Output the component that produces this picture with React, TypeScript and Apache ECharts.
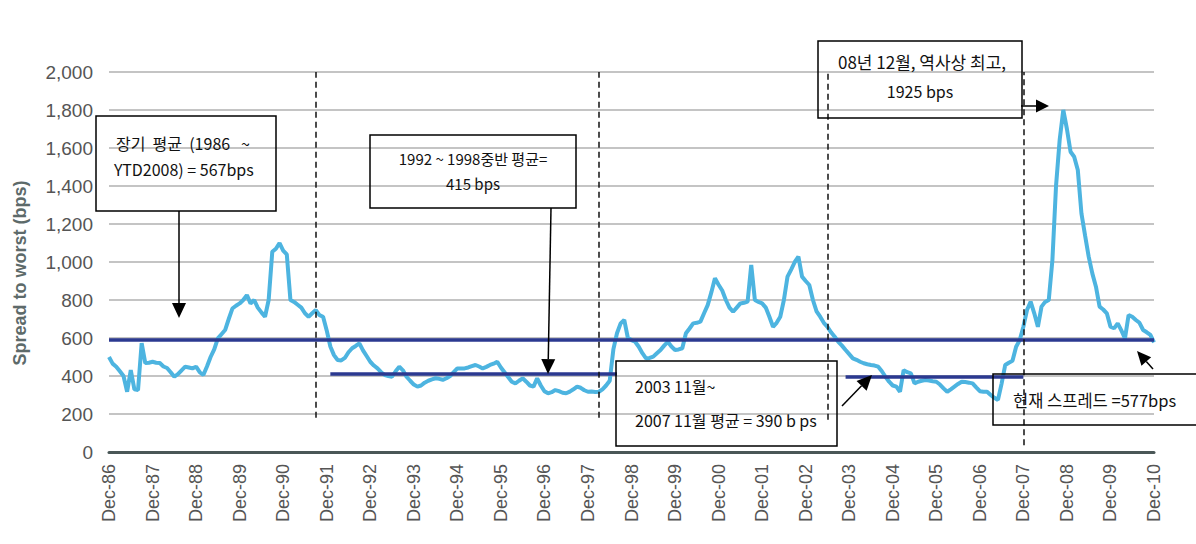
import React, { useEffect, useRef } from "react";
import * as echarts from "echarts";

// ---- categories (monthly, Dec-86 .. Dec-10) ----
const monthNames = ["Jan", "Feb", "Mar", "Apr", "May", "Jun", "Jul", "Aug", "Sep", "Oct", "Nov", "Dec"];
const firstYear = 1987;
const lastYear = 2010;
const categories: string[] = ["Dec-86"];
for (let y = firstYear; y <= lastYear; y++) {
  for (let i = 0; i < 12; i++) categories.push(`${monthNames[i]}-${String(y % 100).padStart(2, "0")}`);
}

// ---- spread to worst (bps), monthly values ----
const spreadDec1986 = [500];
const spread1987 = [465, 449, 425, 400, 317, 431, 330, 326, 573, 468, 470, 475];
const spread1988 = [470, 468, 450, 442, 420, 396, 410, 430, 449, 445, 440, 449];
const spread1989 = [420, 405, 450, 500, 540, 598, 620, 642, 700, 755, 770, 782];
const spread1990 = [800, 826, 782, 800, 760, 735, 712, 800, 1054, 1070, 1100, 1060];
const spread1991 = [1040, 800, 790, 775, 760, 730, 712, 730, 747, 720, 712, 640];
const spread1992 = [555, 510, 484, 482, 495, 525, 546, 558, 572, 535, 505, 475];
const spread1993 = [455, 440, 420, 405, 400, 396, 425, 449, 430, 396, 375, 355];
const spread1994 = [344, 350, 365, 375, 382, 388, 385, 380, 388, 400, 420, 440];
const spread1995 = [440, 440, 445, 452, 458, 450, 440, 448, 458, 465, 475, 445];
const spread1996 = [420, 395, 370, 361, 375, 388, 370, 350, 344, 388, 350, 320];
const spread1997 = [309, 315, 326, 320, 312, 309, 318, 330, 344, 338, 325, 317];
const spread1998 = [318, 316, 317, 330, 350, 375, 540, 625, 677, 695, 600, 589];
const spread1999 = [580, 554, 520, 493, 495, 502, 520, 537, 560, 580, 555, 537];
const spread2000 = [540, 546, 625, 650, 677, 680, 686, 730, 773, 840, 914, 880];
const spread2001 = [850, 800, 760, 738, 760, 782, 785, 791, 984, 800, 790, 782];
const spread2002 = [760, 712, 659, 680, 712, 800, 923, 960, 1000, 1028, 923, 900];
const spread2003 = [879, 800, 740, 712, 680, 659, 630, 607, 580, 560, 537, 515];
const spread2004 = [493, 485, 475, 467, 462, 458, 455, 449, 425, 396, 370, 350];
const spread2005 = [344, 317, 431, 420, 414, 361, 370, 375, 379, 376, 372, 370];
const spread2006 = [355, 335, 317, 330, 344, 358, 370, 368, 365, 361, 340, 320];
const spread2007 = [317, 317, 300, 285, 274, 360, 458, 470, 480, 554, 589, 659];
const spread2008 = [747, 791, 730, 659, 765, 790, 800, 1010, 1400, 1642, 1800, 1700];
const spread2009 = [1580, 1554, 1484, 1256, 1140, 1028, 940, 870, 765, 750, 730, 660];
const spread2010 = [651, 677, 640, 598, 721, 712, 695, 680, 642, 630, 616, 577];

const spread = [
  ...spreadDec1986, ...spread1987, ...spread1988, ...spread1989, ...spread1990, ...spread1991,
  ...spread1992, ...spread1993, ...spread1994, ...spread1995, ...spread1996, ...spread1997,
  ...spread1998, ...spread1999, ...spread2000, ...spread2001, ...spread2002, ...spread2003,
  ...spread2004, ...spread2005, ...spread2006, ...spread2007, ...spread2008, ...spread2009,
  ...spread2010,
];

// ---- averages (value, from, to) ----
const longRunAverage = 592;
const avg1992to1998 = { value: 410, from: "Jan-92", to: "Aug-98" };
const avg2003to2007 = { value: 396, from: "Nov-03", to: "Dec-07" };

// ---- dashed period separators (month, bottom value, top value) ----
const separators = [
  { month: "Sep-91", low: 180, high: 2000 },
  { month: "Mar-98", low: 180, high: 2000 },
  { month: "Jun-03", low: 170, high: 2000 },
  { month: "Dec-07", low: 35, high: 2000 },
];

const yTicks = { min: 0, max: 2000, interval: 200 };

const NAVY = "#2B3990";
const SKY = "#4DB4E0";
const KR = "'Noto Sans CJK KR', 'Noto Sans', sans-serif";
const LAT = "'Liberation Sans', Arial, sans-serif";

function arrow(x1: number, y1: number, x2: number, y2: number, hl = 15, hw = 7) {
  const dx = x2 - x1;
  const dy = y2 - y1;
  const len = Math.hypot(dx, dy);
  const ux = dx / len;
  const uy = dy / len;
  const bx = x2 - ux * hl;
  const by = y2 - uy * hl;
  return [
    { type: "line", z: 100, shape: { x1, y1, x2: bx, y2: by }, style: { stroke: "#000", lineWidth: 1.5 } },
    {
      type: "polygon",
      z: 100,
      shape: { points: [[x2, y2], [bx - uy * hw, by + ux * hw], [bx + uy * hw, by - ux * hw]] },
      style: { fill: "#000" },
    },
  ];
}

function box(x: number, y: number, w: number, h: number) {
  return {
    type: "rect",
    z: 100,
    shape: { x, y, width: w, height: h },
    style: { fill: "transparent", stroke: "#000", lineWidth: 1.5 },
  };
}

function label(text: string, x: number, y: number, align: string = "left", size = 15) {
  return {
    type: "text",
    z: 101,
    x,
    y,
    style: {
      text,
      fill: "#111",
      fontSize: size,
      fontFamily: KR,
      textAlign: align,
      textVerticalAlign: "middle",
      align,
      verticalAlign: "middle",
    },
  };
}

export default function App() {
  const ref = useRef<HTMLDivElement>(null);

  useEffect(() => {
    if (!ref.current) return;
    const chart = echarts.init(ref.current, null, { renderer: "svg" });

    const markData: any[] = [
      { yAxis: longRunAverage, lineStyle: { color: NAVY, width: 3.5, type: "solid" } },
      [
        { coord: [avg1992to1998.from, avg1992to1998.value], lineStyle: { color: NAVY, width: 3.5, type: "solid" } },
        { coord: [avg1992to1998.to, avg1992to1998.value] },
      ],
      [
        { coord: [avg2003to2007.from, avg2003to2007.value], lineStyle: { color: NAVY, width: 3.5, type: "solid" } },
        { coord: [avg2003to2007.to, avg2003to2007.value] },
      ],
      ...separators.map((s) => [
        { coord: [s.month, s.low], lineStyle: { color: "#111", width: 1.5, type: [6, 4] } },
        { coord: [s.month, s.high] },
      ]),
    ];

    const elements: any[] = [
      box(96, 116, 180, 95),
      label("장기  평균  (1986   ~", 116, 143, "left", 16),
      label("YTD2008) = 567bps", 114, 169, "left", 16),
      ...arrow(179, 211, 179, 318),

      box(370, 135, 206, 73),
      label("1992 ~ 1998중반 평균=", 473, 158, "center", 15),
      label("415 bps", 473, 183, "center", 15),
      ...arrow(551, 208, 548, 374),

      box(616, 361, 221, 85),
      label("2003 11월~", 635, 386, "left", 16),
      label("2007 11월 평균 = 390 b ps", 635, 420, "left", 16),
      ...arrow(842, 406, 872, 375),

      box(818, 41, 204, 77),
      label("08년 12월, 역사상 최고,", 922, 61, "center", 17),
      label("1925 bps", 920, 91, "center", 16),
      ...arrow(1021, 106, 1049, 106, 13, 6.5),

      box(993, 374, 210, 51),
      label("현재 스프레드 =577bps", 1013, 400, "left", 16.5),
      ...arrow(1153, 369, 1137, 351, 14, 6.5),
    ];

    chart.setOption({
      animation: false,
      backgroundColor: "#ffffff",
      grid: { left: 109, right: 42, top: 72, bottom: 92, containLabel: false },
      xAxis: {
        type: "category",
        data: categories,
        boundaryGap: false,
        axisLine: { show: true, lineStyle: { color: "#4A5757", width: 3 } },
        axisTick: { show: false },
        axisLabel: {
          interval: 11,
          rotate: 90,
          margin: 12,
          fontSize: 18,
          color: "#555",
          fontFamily: LAT,
        },
        splitLine: { show: false },
      },
      yAxis: {
        type: "value",
        min: yTicks.min,
        max: yTicks.max,
        interval: yTicks.interval,
        name: "Spread to worst (bps)",
        nameLocation: "middle",
        nameRotate: 90,
        nameGap: 80,
        nameTextStyle: {
          fontSize: 18,
          fontWeight: "bold",
          color: "#5D6A6A",
          fontFamily: LAT,
          padding: [0, 22, 0, 0],
        },
        axisLine: { show: false },
        axisTick: { show: false },
        axisLabel: {
          margin: 16,
          fontSize: 19,
          color: "#555",
          fontFamily: LAT,
          formatter: (v: number) => v.toLocaleString("en-US"),
        },
        splitLine: { show: true, lineStyle: { color: "#C4C4C4", width: 2 } },
      },
      series: [
        {
          type: "line",
          data: spread,
          symbol: "none",
          showSymbol: false,
          lineStyle: { color: SKY, width: 4 },
          itemStyle: { color: SKY },
          markLine: {
            silent: true,
            symbol: ["none", "none"],
            label: { show: false },
            data: markData,
          },
        },
      ],
      graphic: { elements },
    });

    return () => chart.dispose();
  }, []);

  return (
    <div
      ref={ref}
      style={{ position: "fixed", left: 0, top: 0, width: 1196, height: 544, background: "#fff" }}
    />
  );
}
